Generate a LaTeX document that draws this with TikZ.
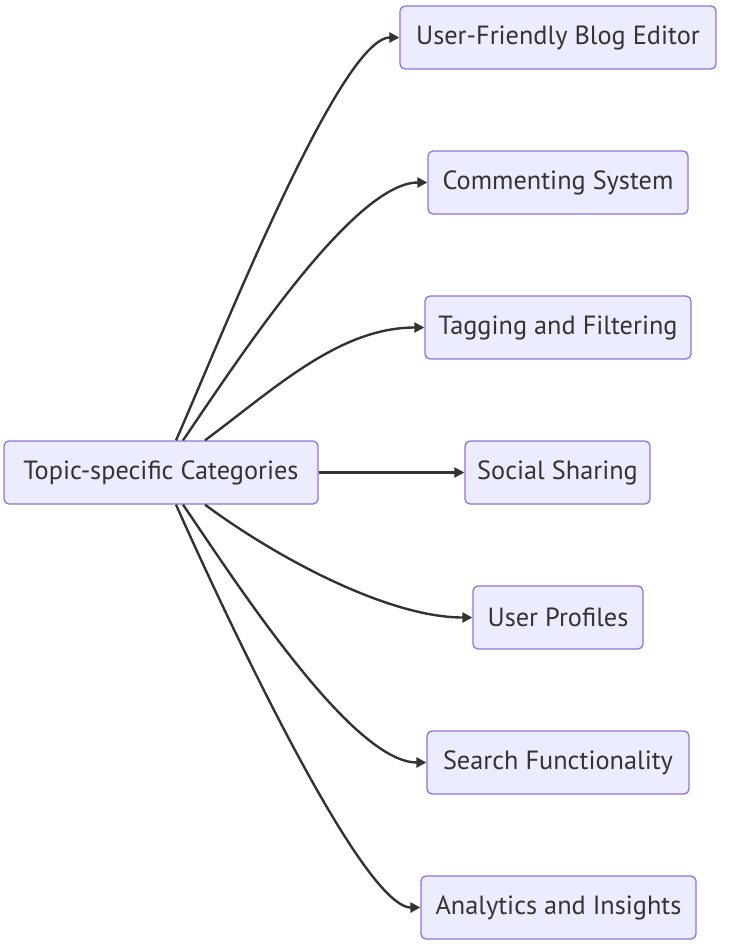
\documentclass[tikz,border=0pt]{standalone}
\usepackage{fontspec}
\setmainfont{PT Sans}
\usetikzlibrary{arrows.meta,calc}
\definecolor{nodefill}{HTML}{ECECFF}
\definecolor{nodeline}{HTML}{9370DB}
\definecolor{ink}{HTML}{333333}
\begin{document}
\begin{tikzpicture}[x=1pt,y=-1pt,
  box/.style={draw=nodeline, fill=nodefill, line width=1.3pt, rounded corners=5pt,
    minimum height=63pt, inner xsep=2pt, text=ink,
    font=\fontsize{26.3}{31}\selectfont},
  link/.style={draw=ink, line width=2.4pt, -{Triangle[length=10pt,width=10pt]}}]
\useasboundingbox (0,0) rectangle (729,946);
\node[box, minimum width=314pt] (c) at (161,472.5) {Topic-specific Categories};
\node[box, minimum width=316pt] (e1) at (558,37.5) {User-Friendly Blog Editor};
\node[box, minimum width=260pt] (e2) at (558,182.5) {Commenting System};
\node[box, minimum width=266pt] (e3) at (558,327.5) {Tagging and Filtering};
\node[box, minimum width=185pt] (e4) at (557.5,472.5) {Social Sharing};
\node[box, minimum width=170pt] (e5) at (558,617.5) {User Profiles};
\node[box, minimum width=262pt] (e6) at (558,762.5) {Search Functionality};
\node[box, minimum width=275pt] (e7) at (558.5,907.5) {Analytics and Insights};
\draw[link] ([xshift=15pt]c.north) .. controls +(40,-90) and +(-60,0) .. (e1.west);
\draw[link] ([xshift=22pt]c.north) .. controls +(50,-73) and +(-75,0) .. (e2.west);
\draw[link] ([xshift=44pt]c.north) .. controls +(70,-52) and +(-85,0) .. (e3.west);
\draw[link] (c.east) -- (e4.west);
\draw[link] ([xshift=44pt]c.south) .. controls +(70,52) and +(-85,0) .. (e5.west);
\draw[link] ([xshift=22pt]c.south) .. controls +(50,73) and +(-75,0) .. (e6.west);
\draw[link] ([xshift=15pt]c.south) .. controls +(40,90) and +(-60,0) .. (e7.west);
\end{tikzpicture}
\end{document}
